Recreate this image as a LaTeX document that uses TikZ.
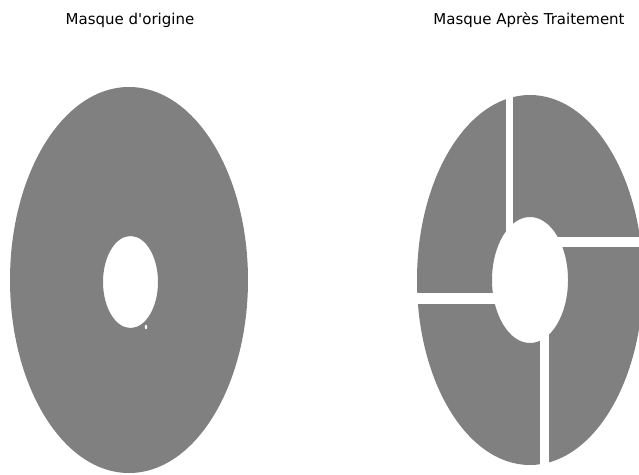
\documentclass[tikz,border=0pt]{standalone}
\usepackage{fontspec}
\setmainfont{DejaVu Sans}
\definecolor{maskgray}{RGB}{128,128,128}
\tikzset{
  masktitle/.style={font=\fontsize{15}{18}\selectfont, text=black, inner sep=0pt, anchor=base},
  maskfill/.style={fill=maskgray, even odd rule},
  gapcut/.style={fill=white}
}
\begin{document}
\begin{tikzpicture}[x=1pt,y=-1pt]
\useasboundingbox (0,0) rectangle (639,474);
\begin{scope}
\clip (0,0) rectangle (639,474);
% left mask
\fill[maskfill] (129,280) ellipse [x radius=119, y radius=193]
                (130.5,282) ellipse [x radius=27.5, y radius=46];
\fill[gapcut] (146,327) ellipse [x radius=1.2, y radius=2.2];
% right mask
\fill[maskfill] (530,280) ellipse [x radius=113, y radius=185]
                (530,280) ellipse [x radius=38, y radius=63];
\fill[gapcut] (506,80) rectangle (513,280);
\fill[gapcut] (530,237) rectangle (650,247);
\fill[gapcut] (400,293) rectangle (530,304);
\fill[gapcut] (540,280) rectangle (549,480);
\end{scope}
\node[masktitle] (t1) at (130,24) {Masque d\textquotesingle origine};
\node[masktitle] (t2) at (529,24) {Masque Après Traitement};
\end{tikzpicture}
\end{document}
